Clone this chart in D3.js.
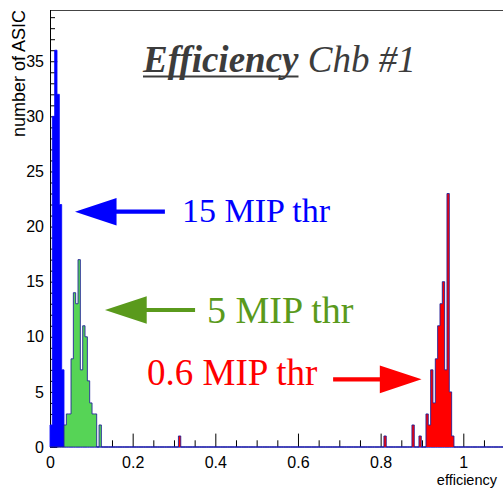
<!DOCTYPE html>
<html>
<head>
<meta charset="utf-8">
<script src="https://cdn.jsdelivr.net/npm/d3@7"></script>
<style>
  body { margin: 0; background: #fff; }
  svg { display: block; }
</style>
</head>
<body>
<svg id="chart" width="503" height="489"></svg>
<script>
// Histogram binning: equal-width bins on [histMin, histMax]
const histMin = 0, histMax = 1.13, nBins = 200;

// 15 MIP threshold: first bin index and consecutive bin counts
const mip15Start = 0;
const mip15Counts = [2, 30, 36, 32, 22, 7];

// 5 MIP threshold
const mip5Start = 6;
const mip5Counts = [2, 3, 3, 8, 14, 13, 17, 7, 11, 10, 6, 4, 3, 3, 0, 2];

// 0.6 MIP threshold: main peak plus isolated entries
const mip06Start = 155;
const mip06Counts = [2, 0, 0, 1, 0, 0, 3, 2, 7, 4, 8, 11, 13, 15, 7, 23, 5, 1];
const mip06ExtraBins = [55, 143];
const mip06ExtraCounts = [1, 1];

// Axis ticks and labels
const xMajorTicks = [0, 0.2, 0.4, 0.6, 0.8, 1];
const xTickLabels = ["0", "0.2", "0.4", "0.6", "0.8", "1"];
const yMajorTicks = [0, 5, 10, 15, 20, 25, 30, 35];
const yTickLabels = ["0", "5", "10", "15", "20", "25", "30", "35"];

const seriesLabels = ["15 MIP thr", "5 MIP thr", "0.6 MIP thr"];

// ---------------------------------------------------------------
const svg = d3.select("#chart");
svg.append("rect").attr("width", 503).attr("height", 489).attr("fill", "#fff");

const plotLeft = 50, plotTop = 10, plotBottom = 447;
const pxPerUnit = 413.3;
const x = d3.scaleLinear().domain([histMin, histMax]).range([plotLeft, plotLeft + pxPerUnit * (histMax - histMin)]);
const y = d3.scaleLinear().domain([0, 39.65]).range([plotBottom, plotTop]);

const binW = (histMax - histMin) / nBins;

function dense(start, counts, extraBins = [], extraCounts = []) {
  const arr = new Array(nBins).fill(0);
  counts.forEach((c, i) => { arr[start + i] = c; });
  extraBins.forEach((b, i) => { arr[b] = extraCounts[i]; });
  return arr;
}

// ---- frame
svg.append("line")
  .attr("x1", plotLeft).attr("x2", x(histMax)).attr("y1", plotTop + 0.5).attr("y2", plotTop + 0.5)
  .attr("stroke", "#444").attr("stroke-width", 1);
svg.append("line")
  .attr("x1", plotLeft + 0.5).attr("x2", plotLeft + 0.5).attr("y1", plotTop).attr("y2", plotBottom)
  .attr("stroke", "#000").attr("stroke-width", 1);

// ---- x axis ticks (inside, pointing up)
const xMinorTicks = d3.range(0, 22).map(i => +(i * 0.05).toFixed(2)).filter(v => !xMajorTicks.includes(v));
const gx = svg.append("g").attr("transform", `translate(0,${plotBottom})`);
gx.call(d3.axisBottom(x).tickValues(xMinorTicks).tickSize(-6.7).tickFormat(""));
gx.select(".domain").remove();
const gxMaj = svg.append("g").attr("transform", `translate(0,${plotBottom})`);
gxMaj.call(d3.axisBottom(x).tickValues(xMajorTicks).tickSize(-13.4).tickPadding(10)
  .tickFormat((d, i) => xTickLabels[i]));
gxMaj.select(".domain").remove();
gxMaj.selectAll("text")
  .attr("font-family", "'Liberation Sans', Arial, sans-serif")
  .attr("font-size", 16).attr("fill", "#000");

// ---- y axis ticks (inside, pointing right)
const yMinorTicks = d3.range(0, 40).filter(v => !yMajorTicks.includes(v));
const gy = svg.append("g").attr("transform", `translate(${plotLeft},0)`);
gy.call(d3.axisLeft(y).tickValues(yMinorTicks).tickSize(-5).tickFormat(""));
gy.select(".domain").remove();
const gyMaj = svg.append("g").attr("transform", `translate(${plotLeft},0)`);
gyMaj.call(d3.axisLeft(y).tickValues(yMajorTicks).tickSize(-7.3).tickPadding(6)
  .tickFormat((d, i) => yTickLabels[i]));
gyMaj.select(".domain").remove();
svg.selectAll(".tick line").attr("stroke", "#000");
gyMaj.selectAll("text")
  .attr("font-family", "'Liberation Sans', Arial, sans-serif")
  .attr("font-size", 16).attr("fill", "#000");

// ---- histograms
const series = [
  { counts: dense(mip15Start, mip15Counts), fill: "#0000ff", line: "#0a0aff" },
  { counts: dense(mip5Start, mip5Counts), fill: "#56d456", line: "#1c1c96" },
  { counts: dense(mip06Start, mip06Counts, mip06ExtraBins, mip06ExtraCounts), fill: "#ff0000", line: "#1c1c96" }
];

const area = d3.area().curve(d3.curveStepAfter)
  .x(d => x(d[0])).y0(y(0)).y1(d => y(d[1]));
const line = d3.line().curve(d3.curveStepAfter)
  .x(d => x(d[0])).y(d => y(d[1]));

series.forEach(s => {
  const pts = s.counts.map((c, i) => [histMin + i * binW, c]);
  pts.push([histMax, s.counts[nBins - 1]]);
  svg.append("path").datum(pts).attr("d", area).attr("fill", s.fill);
  const outline = [[histMin, 0], ...pts, [histMax, 0]];
  svg.append("path").datum(outline).attr("d", line)
    .attr("fill", "none").attr("stroke", s.line).attr("stroke-width", 1).attr("opacity", 0.85);
});

// ---- axis titles
svg.append("text")
  .attr("transform", `translate(25,${plotTop}) rotate(-90)`)
  .attr("text-anchor", "end")
  .attr("font-family", "'Liberation Sans', Arial, sans-serif")
  .attr("font-size", 18).attr("fill", "#000")
  .text("number of ASIC");

svg.append("text")
  .attr("x", 497).attr("y", 485)
  .attr("text-anchor", "end")
  .attr("font-family", "'Liberation Sans', Arial, sans-serif")
  .attr("font-size", 14.5).attr("fill", "#000")
  .text("efficiency");

// ---- title
const title = svg.append("text")
  .attr("x", 143).attr("y", 71.7)
  .attr("font-family", "'Liberation Serif', 'Times New Roman', serif")
  .attr("font-size", 37).attr("fill", "#3c3c3c");
const tEff = title.append("tspan").attr("font-weight", "bold").attr("font-style", "italic").text("Efficiency");
title.append("tspan").attr("font-style", "italic").text(" Chb #1");
const effLen = tEff.node().getComputedTextLength();
svg.append("line")
  .attr("x1", 143).attr("x2", 143 + effLen).attr("y1", 76.5).attr("y2", 76.5)
  .attr("stroke", "#3c3c3c").attr("stroke-width", 2);

// ---- annotation arrows (data coordinates)
function arrow(tipX, tipY, baseX, tailX, color) {
  const hh = 13.8, sh = 2.1;
  const tx = x(tipX), ty = y(tipY), bx = x(baseX), ex = x(tailX);
  const p = [
    [tx, ty], [bx, ty - hh], [bx, ty - sh], [ex, ty - sh],
    [ex, ty + sh], [bx, ty + sh], [bx, ty + hh]
  ];
  svg.append("polygon").attr("points", p.map(q => q.join(",")).join(" ")).attr("fill", color);
}
arrow(0.0605, 21.35, 0.161, 0.278, "#0000ff");
arrow(0.133, 12.43, 0.234, 0.351, "#5a9a1c");
arrow(0.899, 6.14, 0.798, 0.685, "#ff0000");

const annFont = "'Liberation Serif', 'Times New Roman', serif";
svg.append("text").attr("x", 182).attr("y", 222)
  .attr("font-family", annFont).attr("font-size", 34).attr("fill", "#0000ff")
  .text(seriesLabels[0]);
svg.append("text").attr("x", 207).attr("y", 323)
  .attr("font-family", annFont).attr("font-size", 38).attr("fill", "#5a9a1c")
  .text(seriesLabels[1]);
svg.append("text").attr("x", 147).attr("y", 385)
  .attr("font-family", annFont).attr("font-size", 37).attr("fill", "#ff0000")
  .text(seriesLabels[2]);
</script>
</body>
</html>
